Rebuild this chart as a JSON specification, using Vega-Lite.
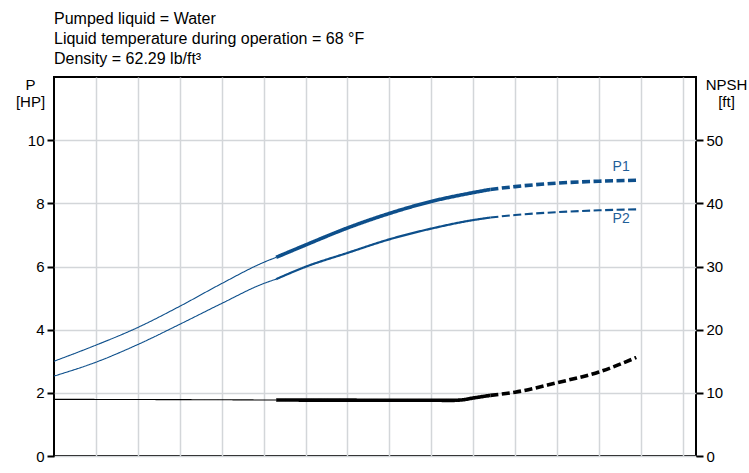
{
  "$schema": "https://vega.github.io/schema/vega-lite/v6.json",
  "width": 642,
  "height": 379,
  "autosize": "none",
  "padding": {"left": 54, "top": 77, "right": 53, "bottom": 17},
  "background": "white",
  "config": {
    "view": {"stroke": "black", "strokeWidth": 2},
    "font": "Liberation Sans",
    "axis": {"labelFont": "Liberation Sans", "titleFont": "Liberation Sans"}
  },
  "title": {
    "text": ["Pumped liquid = Water", "Liquid temperature during operation = 68 °F", "Density = 62.29 lb/ft³"],
    "anchor": "start",
    "frame": "group",
    "fontSize": 16,
    "fontWeight": "normal",
    "font": "Liberation Sans",
    "color": "black",
    "lineHeight": 20,
    "offset": 10
  },
  "datasets": {
    "pump": [
      {"series": "P1", "seg": "P1a", "style": "thin", "q": 0, "p": 3.0},
      {"series": "P1", "seg": "P1a", "style": "thin", "q": 1, "p": 3.51},
      {"series": "P1", "seg": "P1a", "style": "thin", "q": 2, "p": 4.07},
      {"series": "P1", "seg": "P1a", "style": "thin", "q": 3, "p": 4.74},
      {"series": "P1", "seg": "P1a", "style": "thin", "q": 4, "p": 5.46},
      {"series": "P1", "seg": "P1a", "style": "thin", "q": 5, "p": 6.13},
      {"series": "P1", "seg": "P1a", "style": "thin", "q": 5.3, "p": 6.29},
      {"series": "P1", "seg": "P1b", "style": "thick", "q": 5.3, "p": 6.29},
      {"series": "P1", "seg": "P1b", "style": "thick", "q": 6, "p": 6.68},
      {"series": "P1", "seg": "P1b", "style": "thick", "q": 7, "p": 7.22},
      {"series": "P1", "seg": "P1b", "style": "thick", "q": 8, "p": 7.68},
      {"series": "P1", "seg": "P1b", "style": "thick", "q": 9, "p": 8.06},
      {"series": "P1", "seg": "P1b", "style": "thick", "q": 10, "p": 8.34},
      {"series": "P1", "seg": "P1b", "style": "thick", "q": 10.41, "p": 8.44},
      {"series": "P1", "seg": "P1c", "style": "dashthick", "q": 10.41, "p": 8.44},
      {"series": "P1", "seg": "P1c", "style": "dashthick", "q": 11, "p": 8.53},
      {"series": "P1", "seg": "P1c", "style": "dashthick", "q": 12, "p": 8.64},
      {"series": "P1", "seg": "P1c", "style": "dashthick", "q": 13, "p": 8.7},
      {"series": "P1", "seg": "P1c", "style": "dashthick", "q": 13.89, "p": 8.73},
      {"series": "P2", "seg": "P2a", "style": "thin", "q": 0, "p": 2.53},
      {"series": "P2", "seg": "P2a", "style": "thin", "q": 1, "p": 2.97},
      {"series": "P2", "seg": "P2a", "style": "thin", "q": 2, "p": 3.53},
      {"series": "P2", "seg": "P2a", "style": "thin", "q": 3, "p": 4.17},
      {"series": "P2", "seg": "P2a", "style": "thin", "q": 4, "p": 4.83},
      {"series": "P2", "seg": "P2a", "style": "thin", "q": 5, "p": 5.46},
      {"series": "P2", "seg": "P2a", "style": "thin", "q": 5.3, "p": 5.6},
      {"series": "P2", "seg": "P2b", "style": "medium", "q": 5.3, "p": 5.6},
      {"series": "P2", "seg": "P2b", "style": "medium", "q": 6, "p": 5.99},
      {"series": "P2", "seg": "P2b", "style": "medium", "q": 7, "p": 6.43},
      {"series": "P2", "seg": "P2b", "style": "medium", "q": 8, "p": 6.86},
      {"series": "P2", "seg": "P2b", "style": "medium", "q": 9, "p": 7.2},
      {"series": "P2", "seg": "P2b", "style": "medium", "q": 10, "p": 7.47},
      {"series": "P2", "seg": "P2b", "style": "medium", "q": 10.41, "p": 7.55},
      {"series": "P2", "seg": "P2c", "style": "dashmed", "q": 10.41, "p": 7.55},
      {"series": "P2", "seg": "P2c", "style": "dashmed", "q": 11, "p": 7.63},
      {"series": "P2", "seg": "P2c", "style": "dashmed", "q": 12, "p": 7.72},
      {"series": "P2", "seg": "P2c", "style": "dashmed", "q": 13, "p": 7.78},
      {"series": "P2", "seg": "P2c", "style": "dashmed", "q": 13.89, "p": 7.81}
    ],
    "npsh": [
      {"series": "NPSH", "seg": "Na", "style": "thin", "q": 0, "h": 8.97},
      {"series": "NPSH", "seg": "Na", "style": "thin", "q": 2, "h": 8.94},
      {"series": "NPSH", "seg": "Na", "style": "thin", "q": 4, "h": 8.9},
      {"series": "NPSH", "seg": "Na", "style": "thin", "q": 5.3, "h": 8.86},
      {"series": "NPSH", "seg": "Nb", "style": "thick", "q": 5.3, "h": 8.86},
      {"series": "NPSH", "seg": "Nb", "style": "thick", "q": 7, "h": 8.84},
      {"series": "NPSH", "seg": "Nb", "style": "thick", "q": 9, "h": 8.82},
      {"series": "NPSH", "seg": "Nb", "style": "thick", "q": 9.5, "h": 8.81},
      {"series": "NPSH", "seg": "Nb", "style": "thick", "q": 9.75, "h": 8.9},
      {"series": "NPSH", "seg": "Nb", "style": "thick", "q": 10, "h": 9.18},
      {"series": "NPSH", "seg": "Nb", "style": "thick", "q": 10.41, "h": 9.6},
      {"series": "NPSH", "seg": "Nc", "style": "dashthick", "q": 10.41, "h": 9.6},
      {"series": "NPSH", "seg": "Nc", "style": "dashthick", "q": 11, "h": 10.1},
      {"series": "NPSH", "seg": "Nc", "style": "dashthick", "q": 12, "h": 11.6},
      {"series": "NPSH", "seg": "Nc", "style": "dashthick", "q": 13, "h": 13.3},
      {"series": "NPSH", "seg": "Nc", "style": "dashthick", "q": 13.89, "h": 15.6}
    ],
    "labels": [
      {"name": "P1", "q": 13.53, "p": 9.14},
      {"name": "P2", "q": 13.53, "p": 7.49}
    ]
  },
  "layer": [
    {
      "layer": [
        {
          "data": {"name": "pump"},
          "mark": {"type": "line", "interpolate": "monotone", "strokeCap": "butt"},
          "encoding": {
            "x": {
              "field": "q", "type": "quantitative",
              "scale": {"domain": [0, 15.315], "nice": false, "zero": false},
              "axis": {"values": [1,2,3,4,5,6,7,8,9,10,11,12,13,14,15], "labels": false, "ticks": false, "domain": false, "title": null, "grid": true, "gridColor": "#d3d6d9", "gridWidth": 1.5}
            },
            "y": {
              "field": "p", "type": "quantitative",
              "scale": {"domain": [0, 12], "nice": false},
              "axis": {
                "values": [0,2,4,6,8,10], "grid": true, "gridColor": "#d3d6d9", "gridWidth": 1.5,
                "domain": false, "tickColor": "black", "tickWidth": 2, "tickSize": 7,
                "labelFontSize": 15, "labelColor": "black", "labelPadding": 3,
                "title": ["P", "[HP]"], "titleAngle": 0, "titleAlign": "center", "titleBaseline": "top",
                "titleX": -24, "titleY": 0, "titleFontSize": 15, "titleFontWeight": "normal", "titleColor": "black", "titleLineHeight": 17
              }
            },
            "color": {"field": "series", "type": "nominal", "scale": {"domain": ["P1", "P2", "NPSH"], "range": ["#0d4f8b", "#0d4f8b", "#000000"]}, "legend": null},
            "strokeWidth": {"field": "style", "type": "nominal", "scale": {"type": "ordinal", "domain": ["thin", "thick", "medium", "dashthick", "dashmed"], "range": [1.1, 3.6, 2.2, 3.6, 2.1]}, "legend": null},
            "strokeDash": {"field": "style", "type": "nominal", "scale": {"type": "ordinal", "domain": ["thin", "thick", "medium", "dashthick", "dashmed"], "range": [[1, 0], [1, 0], [1, 0], [8, 3.5], [8, 3.5]]}, "legend": null},
            "detail": {"field": "seg"}
          }
        },
        {
          "data": {"name": "labels"},
          "mark": {"type": "text", "fontSize": 14, "color": "#1f5e98", "font": "Liberation Sans"},
          "encoding": {
            "x": {"field": "q", "type": "quantitative"},
            "y": {"field": "p", "type": "quantitative"},
            "text": {"field": "name"}
          }
        }
      ]
    },
    {
      "data": {"name": "npsh"},
      "mark": {"type": "line", "interpolate": "monotone", "strokeCap": "butt"},
      "encoding": {
        "x": {"field": "q", "type": "quantitative"},
        "y": {
          "field": "h", "type": "quantitative",
          "scale": {"domain": [0, 60], "nice": false},
          "axis": {
            "orient": "right", "values": [0,10,20,30,40,50], "grid": false,
            "domain": false, "tickColor": "black", "tickWidth": 2, "tickSize": 7,
            "labelFontSize": 15, "labelColor": "black", "labelPadding": 3,
            "title": ["NPSH", "[ft]"], "titleAngle": 0, "titleAlign": "center", "titleBaseline": "top",
            "titleX": 30, "titleY": 0, "titleFontSize": 15, "titleFontWeight": "normal", "titleColor": "black", "titleLineHeight": 17
          }
        },
        "color": {"field": "series", "type": "nominal", "scale": {"domain": ["P1", "P2", "NPSH"], "range": ["#0d4f8b", "#0d4f8b", "#000000"]}, "legend": null},
        "strokeWidth": {"field": "style", "type": "nominal", "scale": {"type": "ordinal", "domain": ["thin", "thick", "medium", "dashthick", "dashmed"], "range": [1.1, 3.6, 2.2, 3.6, 2.1]}, "legend": null},
        "strokeDash": {"field": "style", "type": "nominal", "scale": {"type": "ordinal", "domain": ["thin", "thick", "medium", "dashthick", "dashmed"], "range": [[1, 0], [1, 0], [1, 0], [8, 3.5], [8, 3.5]]}, "legend": null},
        "detail": {"field": "seg"}
      }
    }
  ],
  "resolve": {"scale": {"y": "independent"}, "axis": {"y": "independent"}}
}
